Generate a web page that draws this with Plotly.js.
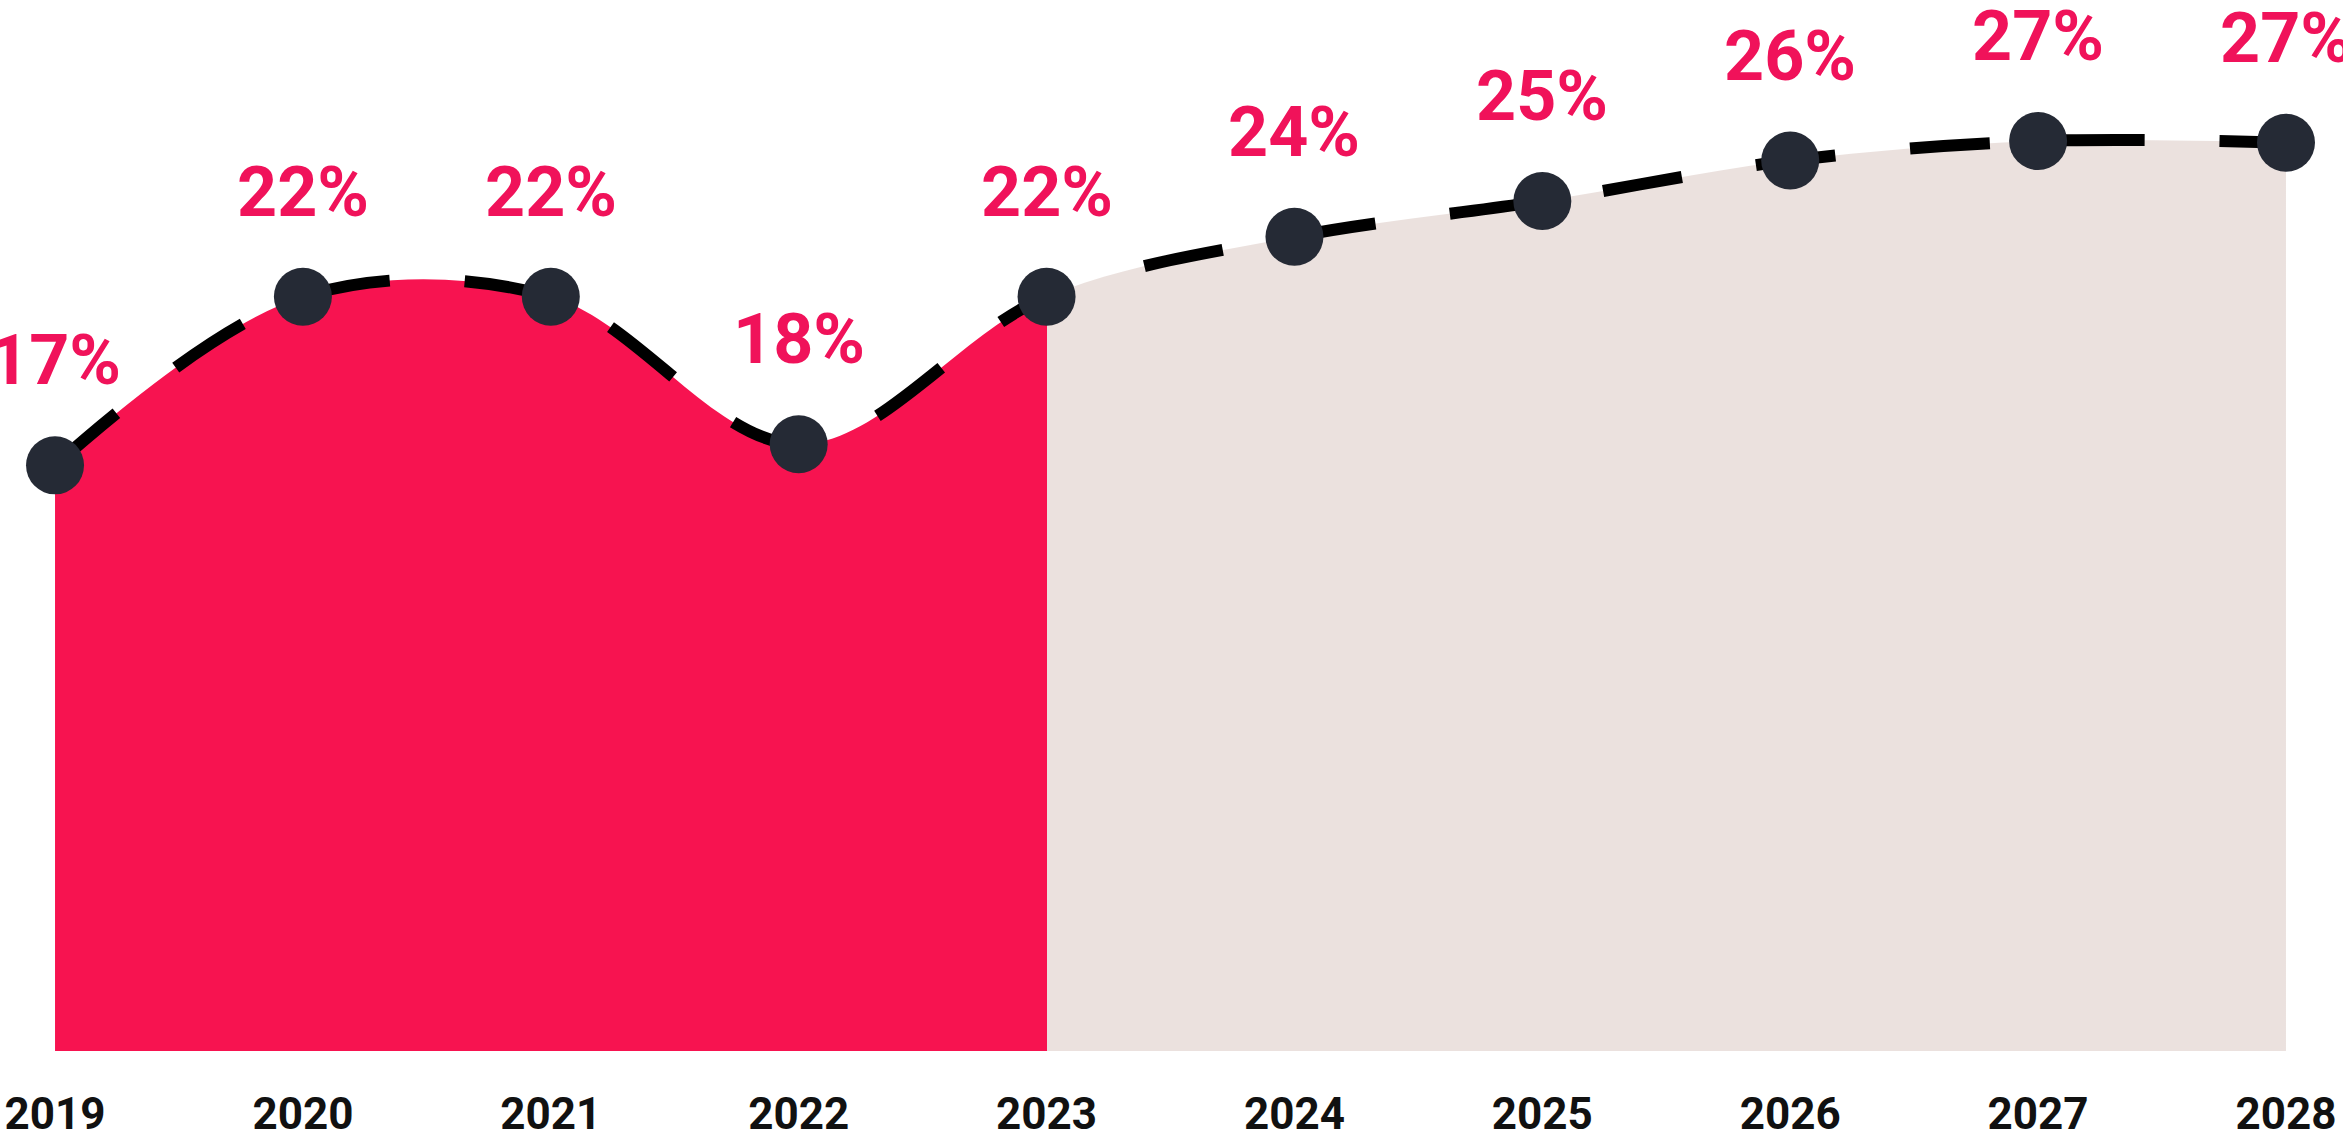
<!DOCTYPE html>
<html>
<head>
<meta charset="utf-8">
<script src="https://cdn.plot.ly/plotly-3.0.1.min.js"></script>
<style>
  html, body { margin: 0; padding: 0; background: #ffffff; }
  #plot { width: 2343px; height: 1143px; }
</style>
</head>
<body>
<div id="plot"></div>
<script>
// Share by year (actuals to 2023, forecast after)
var years = [2019, 2020, 2021, 2022, 2023, 2024, 2025, 2026, 2027, 2028];
var share = [17.0, 22.2, 22.2, 17.65, 22.2, 24.05, 25.15, 26.4, 27.0, 26.95];
var tickLabels = ["2019", "2020", "2021", "2022", "2023", "2024", "2025", "2026", "2027", "2028"];
var splitYear = 2023;

var YMIN = -1.06;
var YMAX = 31.35;

// invisible floor for the area fill
var floor = {
  x: years,
  y: years.map(function () { return YMIN; }),
  mode: "lines",
  type: "scatter",
  line: { width: 0, color: "rgba(0,0,0,0)" },
  hoverinfo: "skip",
  showlegend: false
};

var splitPos = (splitYear - years[0]) / (years[years.length - 1] - years[0]);

var area = {
  x: years,
  y: share,
  mode: "lines+markers",
  type: "scatter",
  fill: "tonexty",
  fillgradient: {
    type: "horizontal",
    start: years[0],
    stop: years[years.length - 1],
    colorscale: [
      [0, "#F71350"],
      [splitPos, "#F71350"],
      [splitPos, "#EBE1DE"],
      [1, "#EBE1DE"]
    ]
  },
  line: { shape: "spline", smoothing: 1, color: "#000000", width: 12, dash: "80px,75px" },
  marker: { color: "#252A35", size: 58 },
  showlegend: false
};

// value labels above the dots
var labels = years.map(function (yr, i) {
  return {
    x: yr,
    y: share[i],
    text: Math.round(share[i]) + "%",
    showarrow: false,
    xanchor: "center",
    yanchor: "middle",
    yshift: 105,
    font: { family: "Roboto", size: 70, color: "#F0125A", weight: 700 }
  };
});

var layout = {
  width: 2343,
  height: 1143,
  margin: { l: 0, r: 0, t: 0, b: 92 },
  paper_bgcolor: "#ffffff",
  plot_bgcolor: "#ffffff",
  showlegend: false,
  xaxis: {
    range: [2018.778, 2028.23],
    tickvals: years,
    ticktext: tickLabels,
    showgrid: false,
    zeroline: false,
    showline: false,
    ticks: "",
    ticklabelstandoff: 33,
    tickfont: { family: "Roboto", size: 44, color: "#111111", weight: 700 }
  },
  yaxis: {
    range: [YMIN, YMAX],
    visible: false,
    showgrid: false,
    zeroline: false
  },
  annotations: labels
};

Plotly.newPlot("plot", [floor, area], layout, { displayModeBar: false, staticPlot: true });
</script>
</body>
</html>
